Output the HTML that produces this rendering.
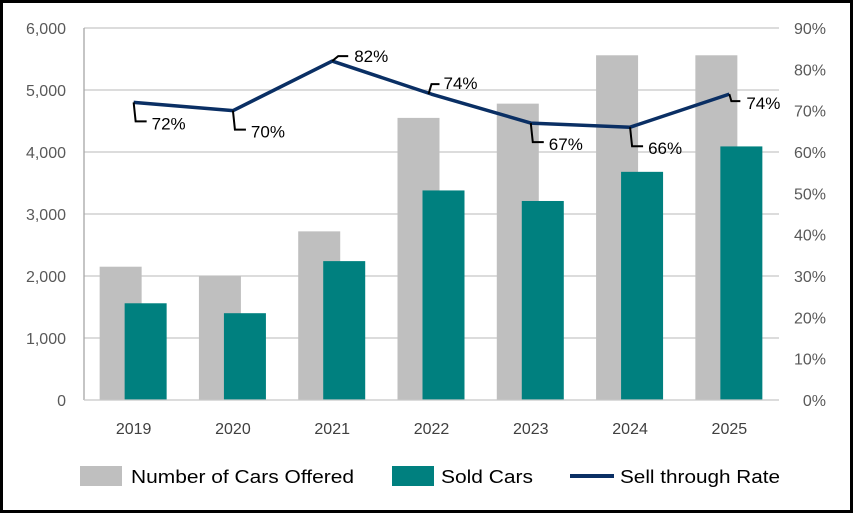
<!DOCTYPE html>
<html><head><meta charset="utf-8"><style>
body{margin:0;background:#fff}
svg{display:block;font-family:"Liberation Sans",sans-serif}
</style></head><body>
<svg id="chart" width="853" height="513" viewBox="0 0 853 513">
<rect x="1.5" y="1.5" width="850" height="510" fill="#fff" stroke="#000" stroke-width="3"/>
<g id="grid"></g><g id="bars"></g><g id="line"></g><g id="axes"></g><g id="labels"></g>
<g>
<rect x="80" y="466" width="42" height="20" fill="#bfbfbf"/>
<text x="131" y="483" font-size="18" fill="#000" textLength="223" lengthAdjust="spacingAndGlyphs">Number of Cars Offered</text>
<rect x="392" y="466" width="42" height="20" fill="#00807f"/>
<text x="441" y="483" font-size="18" fill="#000" textLength="92" lengthAdjust="spacingAndGlyphs">Sold Cars</text>
<line x1="570" y1="476" x2="614" y2="476" stroke="#0a2f64" stroke-width="4"/>
<text x="620" y="483" font-size="18" fill="#000" textLength="160" lengthAdjust="spacingAndGlyphs">Sell through Rate</text>
</g>
</svg>
<script>
const categories=["2019","2020","2021","2022","2023","2024","2025"];
const offered=[2150,2000,2720,4550,4780,5560,5560];
const sold=[1560,1400,2240,3380,3210,3680,4090];
const rate=[72,70,82,74,67,66,74];
const leftTicks=[0,1000,2000,3000,4000,5000,6000];
const rightTicks=[0,10,20,30,40,50,60,70,80,90];
const labelDir=[1,1,-1,-1,1,1,0];
const NS="http://www.w3.org/2000/svg";
const X0=84,X1=779,Y0=400,Y1=28;
const band=(X1-X0)/categories.length;
const xc=i=>X0+band*(i+0.5);
const yL=v=>Y0-(v/6000)*(Y0-Y1);
const yR=v=>Y0-(v/90)*(Y0-Y1);
function mk(tag,attrs,parent){const e=document.createElementNS(NS,tag);for(const k in attrs)e.setAttribute(k,attrs[k]);document.getElementById(parent).appendChild(e);return e;}
leftTicks.forEach(t=>{
 if(t>0){const g=mk("line",{x1:X0,x2:X1,y1:yL(t),y2:yL(t),stroke:"#c8c8c8","stroke-width":1.3},"grid");
 
 }
 const tx=mk("text",{x:66,y:yL(t)+6,"text-anchor":"end","font-size":16,fill:"#595959"},"axes");tx.textContent=t.toLocaleString("en-US");
 
 
});
rightTicks.forEach(t=>{
 const tx=mk("text",{x:826,y:yR(t)+6,"text-anchor":"end","font-size":16,fill:"#595959"},"axes");tx.textContent=t+"%";
 
 
});
const ax=mk("line",{x1:X0,x2:X0,y1:Y1,y2:Y0,stroke:"#a6a6a6","stroke-width":1.3},"axes");


const bx=mk("line",{x1:X0,x2:X1,y1:Y0,y2:Y0,stroke:"#c8c8c8","stroke-width":1.3},"axes");


categories.forEach((c,i)=>{
 const g=mk("rect",{x:xc(i)-34,y:yL(offered[i]),width:42,height:Y0-yL(offered[i]),fill:"#bfbfbf"},"bars");
 
 
 const s=mk("rect",{x:xc(i)-9,y:yL(sold[i]),width:42,height:Y0-yL(sold[i]),fill:"#00807f"},"bars");
 
 
 const t=mk("text",{x:xc(i),y:434,"text-anchor":"middle","font-size":16,fill:"#404040"},"axes");t.textContent=c;
 
 
});
const pl=mk("polyline",{points:rate.map((r,i)=>xc(i)+","+yR(r)).join(" "),fill:"none",stroke:"#0a2f64","stroke-width":3.5,"stroke-linejoin":"round"},"line");


rate.forEach((r,i)=>{
 const x=xc(i),y=yR(r),d=labelDir[i];
 let path,tx,ty;
 if(d===1){path=`M${x},${y} L${x+2},${y+19} L${x+13},${y+19}`;tx=x+18;ty=y+27;}
 else if(d===-1){path=i===2?`M${x},${y} L${x+6},${y-5} L${x+16},${y-5}`:`M${x-3},${y} L${x},${y-10} L${x+8},${y-10}`;tx=i===2?x+22:x+12;ty=i===2?y+1:y-5;}
 else{path=`M${x},${y} L${x+2},${y+7} L${x+11},${y+7}`;tx=x+17;ty=y+15;}
 const p=mk("path",{d:path,fill:"none",stroke:"#000","stroke-width":2},"labels");
 
 
 const t=mk("text",{x:tx,y:ty,"font-size":17,fill:"#000"},"labels");t.textContent=r+"%";
 
 
});
</script>
</body></html>
